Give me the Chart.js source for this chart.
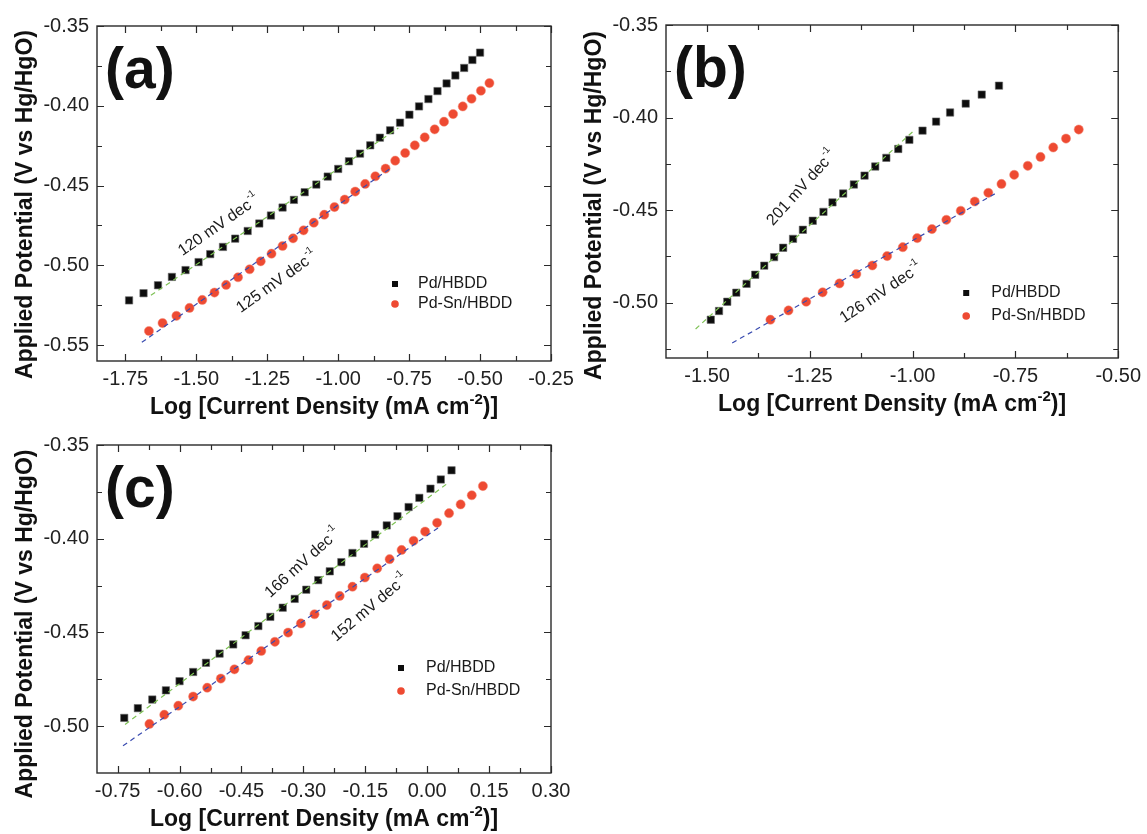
<!DOCTYPE html>
<html>
<head>
<meta charset="utf-8">
<script src="https://cdn.jsdelivr.net/npm/chart.js@4.4.1/dist/chart.umd.min.js"></script>
<style>
  body { margin: 0; background: #fff; }
  #wrap { position: relative; width: 1147px; height: 834px; }
  canvas { position: absolute; }
</style>
</head>
<body>
<div id="wrap">
  <canvas id="chartA" width="580" height="425" style="left:0;top:0"></canvas>
  <canvas id="chartB" width="567" height="425" style="left:580px;top:0"></canvas>
  <canvas id="chartC" width="580" height="409" style="left:0;top:425px"></canvas>
</div>
<script>
// ---- tick labels ----
const xTicksA = [-1.75, -1.50, -1.25, -1.00, -0.75, -0.50, -0.25];
const yTicksA = [-0.55, -0.50, -0.45, -0.40, -0.35];
const xTicksB = [-1.50, -1.25, -1.00, -0.75, -0.50];
const yTicksB = [-0.50, -0.45, -0.40, -0.35];
const xTicksC = [-0.75, -0.60, -0.45, -0.30, -0.15, 0.00, 0.15, 0.30];
const yTicksC = [-0.50, -0.45, -0.40, -0.35];

const seriesNames = ['Pd/HBDD', 'Pd-Sn/HBDD'];

// ---- panel (a) ----
const pdA_x = [-1.737,-1.686,-1.635,-1.586,-1.538,-1.492,-1.451,-1.406,-1.363,-1.319,-1.278,-1.237,-1.196,-1.156,-1.118,-1.077,-1.037,-1.000,-0.962,-0.923,-0.887,-0.853,-0.817,-0.782,-0.749,-0.715,-0.682,-0.650,-0.618,-0.587,-0.556,-0.527,-0.500];
const pdA_y = [-0.5220,-0.5175,-0.5125,-0.5073,-0.5030,-0.4980,-0.4930,-0.4885,-0.4833,-0.4785,-0.4738,-0.4688,-0.4638,-0.4590,-0.4542,-0.4494,-0.4444,-0.4396,-0.4348,-0.4300,-0.4248,-0.4200,-0.4154,-0.4106,-0.4056,-0.4004,-0.3958,-0.3908,-0.3860,-0.3810,-0.3763,-0.3713,-0.3667];
const snA_x = [-1.667,-1.619,-1.570,-1.524,-1.479,-1.436,-1.395,-1.353,-1.312,-1.273,-1.235,-1.196,-1.159,-1.122,-1.086,-1.049,-1.013,-0.977,-0.940,-0.905,-0.869,-0.833,-0.799,-0.764,-0.730,-0.695,-0.660,-0.627,-0.595,-0.561,-0.530,-0.497,-0.467];
const snA_y = [-0.5412,-0.5362,-0.5317,-0.5267,-0.5217,-0.5171,-0.5123,-0.5075,-0.5025,-0.4975,-0.4927,-0.4879,-0.4831,-0.4781,-0.4733,-0.4683,-0.4635,-0.4588,-0.4538,-0.4490,-0.4442,-0.4394,-0.4344,-0.4296,-0.4248,-0.4198,-0.4148,-0.4100,-0.4052,-0.4004,-0.3956,-0.3906,-0.3858];
const fitPdA_x = [-1.660, -0.788], fitPdA_y = [-0.5188, -0.4140];
const fitSnA_x = [-1.692, -0.814], fitSnA_y = [-0.5483, -0.4390];

// ---- panel (b) ----
const pdB_x = [-1.491,-1.471,-1.451,-1.429,-1.404,-1.383,-1.361,-1.337,-1.315,-1.291,-1.267,-1.243,-1.217,-1.195,-1.169,-1.143,-1.117,-1.091,-1.064,-1.035,-1.008,-0.976,-0.943,-0.909,-0.871,-0.832,-0.790];
const pdB_y = [-0.5093,-0.5046,-0.4996,-0.4947,-0.4899,-0.4850,-0.4801,-0.4755,-0.4704,-0.4656,-0.4607,-0.4558,-0.4510,-0.4459,-0.4411,-0.4362,-0.4314,-0.4265,-0.4218,-0.4170,-0.4121,-0.4071,-0.4022,-0.3973,-0.3925,-0.3876,-0.3828];
const snB_x = [-1.346,-1.302,-1.259,-1.219,-1.178,-1.137,-1.098,-1.062,-1.024,-0.989,-0.953,-0.918,-0.883,-0.849,-0.816,-0.784,-0.753,-0.720,-0.689,-0.658,-0.627,-0.596];
const snB_y = [-0.5093,-0.5043,-0.4996,-0.4945,-0.4897,-0.4846,-0.4800,-0.4749,-0.4701,-0.4652,-0.4603,-0.4553,-0.4504,-0.4454,-0.4407,-0.4359,-0.4310,-0.4261,-0.4213,-0.4162,-0.4114,-0.4065];
const fitPdB_x = [-1.528, -0.995], fitPdB_y = [-0.5143, -0.4067];
const fitSnB_x = [-1.439, -0.794], fitSnB_y = [-0.5219, -0.4405];

// ---- panel (c) ----
const pdC_x = [-0.734,-0.701,-0.666,-0.633,-0.600,-0.567,-0.536,-0.503,-0.470,-0.440,-0.409,-0.380,-0.350,-0.321,-0.293,-0.264,-0.236,-0.208,-0.181,-0.153,-0.126,-0.098,-0.072,-0.045,-0.019,0.008,0.033,0.059];
const pdC_y = [-0.4956,-0.4904,-0.4858,-0.4809,-0.4760,-0.4711,-0.4662,-0.4613,-0.4564,-0.4515,-0.4466,-0.4417,-0.4368,-0.4321,-0.4272,-0.4221,-0.4174,-0.4125,-0.4076,-0.4027,-0.3978,-0.3929,-0.3880,-0.3831,-0.3782,-0.3733,-0.3684,-0.3635];
const snC_x = [-0.673,-0.637,-0.603,-0.567,-0.533,-0.500,-0.467,-0.433,-0.402,-0.369,-0.337,-0.306,-0.273,-0.243,-0.212,-0.181,-0.151,-0.121,-0.091,-0.062,-0.033,-0.005,0.024,0.053,0.081,0.108,0.135];
const snC_y = [-0.4988,-0.4939,-0.4891,-0.4842,-0.4795,-0.4746,-0.4697,-0.4648,-0.4599,-0.4550,-0.4501,-0.4452,-0.4403,-0.4354,-0.4305,-0.4256,-0.4207,-0.4158,-0.4109,-0.4060,-0.4011,-0.3962,-0.3915,-0.3864,-0.3817,-0.3768,-0.3719];
const fitPdC_x = [-0.732, 0.046], fitPdC_y = [-0.4991, -0.3710];
const fitSnC_x = [-0.737, 0.032], fitSnC_y = [-0.5105, -0.3934];

const FONT = '"Liberation Sans", Arial, sans-serif';

function pts(xs, ys) {
  return xs.map((v, i) => ({x: v, y: ys[i]}));
}

function minors(ticks, min, max) {
  const step = ticks[1] - ticks[0];
  const out = [];
  for (let v = ticks[0] - step / 2; v < max + 1e-9; v += step) {
    if (v > min + 1e-6 && v < max - 1e-6) out.push(v);
  }
  return out;
}

// draws the frame, inward ticks on all sides, letters, slope notes, legend and titles
const decorPlugin = {
  id: 'decor',
  afterDraw(chart) {
    const p = chart.options.plugins.decor;
    const {ctx, chartArea: a} = chart;
    const xs = chart.scales.x, ys = chart.scales.y;
    ctx.save();
    ctx.strokeStyle = '#2a2a2a';
    ctx.lineWidth = 1.4;
    ctx.strokeRect(a.left, a.top, a.right - a.left, a.bottom - a.top);

    ctx.lineWidth = 1.2;
    const xMaj = xs.ticks.map(t => t.value), yMaj = ys.ticks.map(t => t.value);
    const xMin = minors(xMaj, xs.min, xs.max), yMin = minors(yMaj, ys.min, ys.max);
    ctx.beginPath();
    [[xMaj, 7], [xMin, 5]].forEach(([vals, len]) => vals.forEach(v => {
      const px = Math.round(xs.getPixelForValue(v)) + 0.5;
      ctx.moveTo(px, a.bottom); ctx.lineTo(px, a.bottom - len);
      ctx.moveTo(px, a.top); ctx.lineTo(px, a.top + len);
    }));
    [[yMaj, 7], [yMin, 5]].forEach(([vals, len]) => vals.forEach(v => {
      const py = Math.round(ys.getPixelForValue(v)) + 0.5;
      ctx.moveTo(a.left, py); ctx.lineTo(a.left + len, py);
      ctx.moveTo(a.right, py); ctx.lineTo(a.right - len, py);
    }));
    ctx.stroke();

    // panel letter
    ctx.fillStyle = '#111';
    ctx.font = 'bold 57px ' + FONT;
    ctx.textBaseline = 'middle';
    ctx.textAlign = 'left';
    ctx.fillText(p.letter, a.left + 8, a.top + 46);

    // slope notes
    p.notes.forEach(n => {
      const px = xs.getPixelForValue(n.x), py = ys.getPixelForValue(n.y);
      ctx.save();
      ctx.translate(px, py);
      ctx.rotate(-n.angle * Math.PI / 180);
      ctx.font = '16px ' + FONT;
      const w1 = ctx.measureText(n.text).width;
      ctx.font = '10px ' + FONT;
      const w2 = ctx.measureText('-1').width;
      const x0 = -(w1 + w2 + 1) / 2;
      ctx.fillStyle = '#1a1a1a';
      ctx.font = '16px ' + FONT;
      ctx.fillText(n.text, x0, 0);
      ctx.font = '10px ' + FONT;
      ctx.fillText('-1', x0 + w1 + 1, -7);
      ctx.restore();
    });

    // legend
    const lg = p.legend;
    chart.data.datasets.slice(0, 2).forEach((ds, i) => {
      const mx = a.right + lg.dx, my = a.bottom + lg.dy + i * lg.gap;
      ctx.fillStyle = ds.backgroundColor;
      if (ds.pointStyle === 'rect') {
        ctx.fillRect(mx - 3, my - 3, 6, 6);
      } else {
        ctx.beginPath(); ctx.arc(mx, my, 3.8, 0, Math.PI * 2); ctx.fill();
      }
      ctx.fillStyle = '#1a1a1a';
      ctx.font = '16px ' + FONT;
      ctx.textBaseline = 'middle';
      ctx.fillText(ds.label, mx + lg.tx, my);
    });

    // y title
    ctx.save();
    ctx.translate(a.left - 71, (a.top + a.bottom) / 2 + p.yTitleOff);
    ctx.rotate(-Math.PI / 2);
    ctx.font = 'bold 23px ' + FONT;
    ctx.textAlign = 'center';
    ctx.fillStyle = '#111';
    ctx.fillText('Applied Potential (V vs Hg/HgO)', 0, 0);
    ctx.restore();

    // x title with superscript
    const parts = ['Log [Current Density (mA cm', '-2', ')]'];
    ctx.font = 'bold 23px ' + FONT;
    const wa = ctx.measureText(parts[0]).width, wc = ctx.measureText(parts[2]).width;
    ctx.font = 'bold 15px ' + FONT;
    const wb = ctx.measureText(parts[1]).width;
    let tx = (a.left + a.right) / 2 - (wa + wb + wc) / 2;
    const ty = a.bottom + 47;
    ctx.fillStyle = '#111';
    ctx.textAlign = 'left';
    ctx.font = 'bold 23px ' + FONT;
    ctx.fillText(parts[0], tx, ty);
    ctx.font = 'bold 15px ' + FONT;
    ctx.fillText(parts[1], tx + wa, ty - 8);
    ctx.font = 'bold 23px ' + FONT;
    ctx.fillText(parts[2], tx + wa + wb, ty);
    ctx.restore();
  }
};

function makePanel(cfg) {
  const fixTicks = vals => s => { s.ticks = vals.map(v => ({value: v})); };
  new Chart(document.getElementById(cfg.id), {
    type: 'scatter',
    data: {
      datasets: [
        {label: seriesNames[0], data: pts(cfg.pd[0], cfg.pd[1]), pointStyle: 'rect', pointRadius: 5.2,
         backgroundColor: '#0d0d0d', borderColor: '#6b6b6b', borderWidth: 0.6, order: 2},
        {label: seriesNames[1], data: pts(cfg.sn[0], cfg.sn[1]), pointStyle: 'circle', pointRadius: 4.6,
         backgroundColor: '#ee4a32', borderColor: '#f28a76', borderWidth: 0.5, order: 2},
        {type: 'line', label: 'fit1', data: pts(cfg.fitPd[0], cfg.fitPd[1]), borderColor: '#7fc256',
         borderWidth: 1.2, borderDash: [5, 4], pointRadius: 0, fill: false, order: 1},
        {type: 'line', label: 'fit2', data: pts(cfg.fitSn[0], cfg.fitSn[1]), borderColor: '#3a4cb0',
         borderWidth: 1.2, borderDash: [5, 4], pointRadius: 0, fill: false, order: 1}
      ]
    },
    options: {
      responsive: false,
      animation: false,
      devicePixelRatio: 1,
      layout: {padding: cfg.pad},
      scales: {
        x: {
          type: 'linear', min: cfg.xr[0], max: cfg.xr[1],
          afterBuildTicks: fixTicks(cfg.xt),
          afterFit: s => { s.height = cfg.xh; },
          grid: {display: false, drawTicks: false},
          border: {display: false},
          ticks: {autoSkip: false, maxRotation: 0, padding: 6, color: '#222',
                  font: {size: 20, family: FONT}, callback: v => v.toFixed(2)}
        },
        y: {
          type: 'linear', min: cfg.yr[0], max: cfg.yr[1],
          afterBuildTicks: fixTicks(cfg.yt),
          afterFit: s => { s.width = cfg.yw; },
          grid: {display: false, drawTicks: false},
          border: {display: false},
          ticks: {autoSkip: false, padding: 8, color: '#222',
                  font: {size: 20, family: FONT}, callback: v => v.toFixed(2)}
        }
      },
      plugins: {
        legend: {display: false},
        tooltip: {enabled: false},
        decor: {letter: cfg.letter, notes: cfg.notes, legend: cfg.legend, yTitleOff: cfg.yTitleOff}
      }
    },
    plugins: [decorPlugin]
  });
}

makePanel({
  id: 'chartA', letter: '(a)', xr: [-1.85, -0.25], yr: [-0.56, -0.35], xt: xTicksA, yt: yTicksA,
  pad: {left: 0, top: 26, right: 29, bottom: 0}, yw: 97, xh: 64,
  pd: [pdA_x, pdA_y], sn: [snA_x, snA_y], fitPd: [fitPdA_x, fitPdA_y], fitSn: [fitSnA_x, fitSnA_y],
  notes: [{x: -1.42, y: -0.475, text: '120 mV dec', angle: 35},
          {x: -1.216, y: -0.5105, text: '125 mV dec', angle: 35.5}],
  legend: {dx: -156, dy: -77, gap: 20, tx: 23}, yTitleOff: 11
});

makePanel({
  id: 'chartB', letter: '(b)', xr: [-1.6, -0.5], yr: [-0.53, -0.35], xt: xTicksB, yt: yTicksB,
  pad: {left: 0, top: 25, right: 27, bottom: 0}, yw: 86, xh: 67,
  pd: [pdB_x, pdB_y], sn: [snB_x, snB_y], fitPd: [fitPdB_x, fitPdB_y], fitSn: [fitSnB_x, fitSnB_y],
  notes: [{x: -1.27, y: -0.438, text: '201 mV dec', angle: 48},
          {x: -1.077, y: -0.4949, text: '126 mV dec', angle: 34}],
  legend: {dx: -152, dy: -65, gap: 23, tx: 25}, yTitleOff: 14
});

makePanel({
  id: 'chartC', letter: '(c)', xr: [-0.8, 0.3], yr: [-0.525, -0.35], xt: xTicksC, yt: yTicksC,
  pad: {left: 0, top: 15, right: 29, bottom: 0}, yw: 97, xh: 61,
  pd: [pdC_x, pdC_y], sn: [snC_x, snC_y], fitPd: [fitPdC_x, fitPdC_y], fitSn: [fitSnC_x, fitSnC_y],
  notes: [{x: -0.3015, y: -0.413, text: '166 mV dec', angle: 42},
          {x: -0.139, y: -0.437, text: '152 mV dec', angle: 40}],
  legend: {dx: -150, dy: -105, gap: 23, tx: 25}, yTitleOff: 15
});
</script>
</body>
</html>
